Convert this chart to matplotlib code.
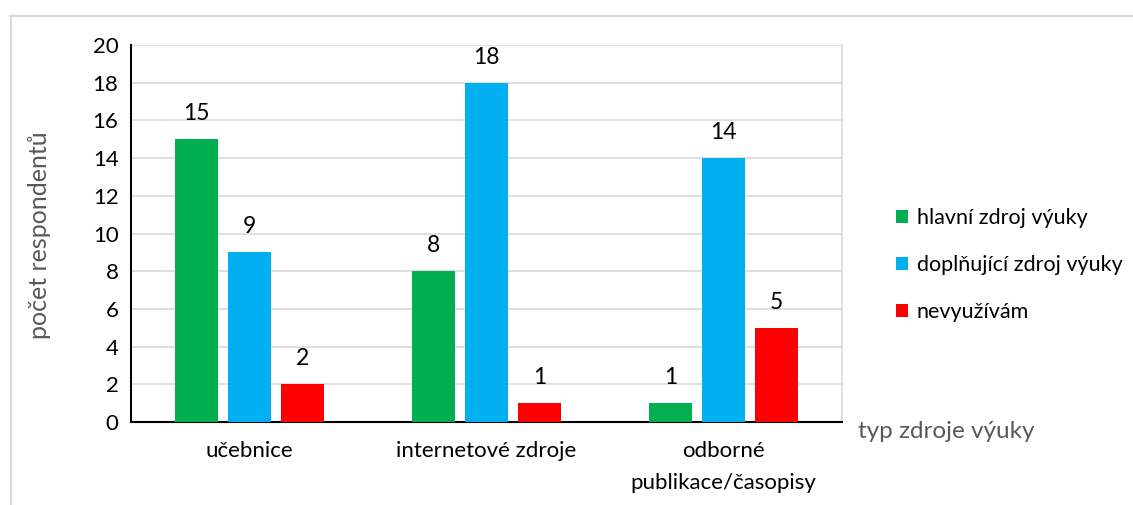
import numpy as np
import matplotlib.pyplot as plt

plt.rcParams['font.family'] = ['Lato', 'DejaVu Sans']

# data
categories = ['učebnice', 'internetové zdroje', 'odborné\npublikace/časopisy']
series_names = ['hlavní zdroj výuky', 'doplňující zdroj výuky', 'nevyužívám']
hlavni = [15, 8, 1]
doplnujici = [9, 18, 14]
nevyuzivam = [2, 1, 5]
colors = ['#00b050', '#00b0f0', '#ff0000']

fig = plt.figure(figsize=(11.33, 5.05), dpi=100)
W, H = 1133, 505
ax = fig.add_axes([131 / W, 1 - 422 / H, 711 / W, 377 / H])

# outer chart frame (top + left only visible)
fig.add_artist(plt.Line2D([10 / W, 1], [1 - 16 / H, 1 - 16 / H], color='#d9d9d9', lw=1.5,
                          transform=fig.transFigure))
fig.add_artist(plt.Line2D([11 / W, 11 / W], [0, 1 - 16 / H], color='#d9d9d9', lw=1.5,
                          transform=fig.transFigure))

x = np.arange(len(categories))
width = 0.178
offset = 0.224
for i, (vals, name) in enumerate(zip([hlavni, doplnujici, nevyuzivam], series_names)):
    bars = ax.bar(x + (i - 1) * offset, vals, width, color=colors[i], label=name, zorder=3)
    for b, v in zip(bars, vals):
        ax.text(b.get_x() + b.get_width() / 2, v + 1.35, str(v), ha='center', va='center',
                fontsize=16.5, color='black')

ax.set_xlim(-0.5, 2.5)
ax.set_ylim(0, 20)
ax.set_yticks(range(0, 21, 2))
ax.set_xticks(x)
ax.set_xticklabels(categories, fontsize=16, linespacing=1.7)
ax.tick_params(axis='y', labelsize=16, length=0, pad=9)
ax.tick_params(axis='x', length=0, pad=14)
ax.grid(axis='y', color='#d9d9d9', lw=1.2, zorder=0)
ax.spines['top'].set_visible(False)
ax.spines['right'].set_color('#d9d9d9')
ax.spines['right'].set_linewidth(1.2)
ax.spines['left'].set_color('black')
ax.spines['left'].set_linewidth(1.5)
ax.spines['bottom'].set_color('black')
ax.spines['bottom'].set_linewidth(1.5)

fig.text(40 / W, 1 - 235 / H, 'počet respondentů', rotation=90, ha='center', va='center',
         fontsize=18, color='#595959')
fig.text(858 / W, 1 - 432 / H, 'typ zdroje výuky', ha='left', va='center',
         fontsize=17.5, color='#595959')

leg = fig.legend(loc='center left', bbox_to_anchor=(877 / W, 1 - 265 / H), frameon=False,
                 fontsize=15.5, handlelength=0.55, handleheight=0.55, handletextpad=0.4,
                 labelspacing=1.25)

fig.savefig('out.png', dpi=100)
